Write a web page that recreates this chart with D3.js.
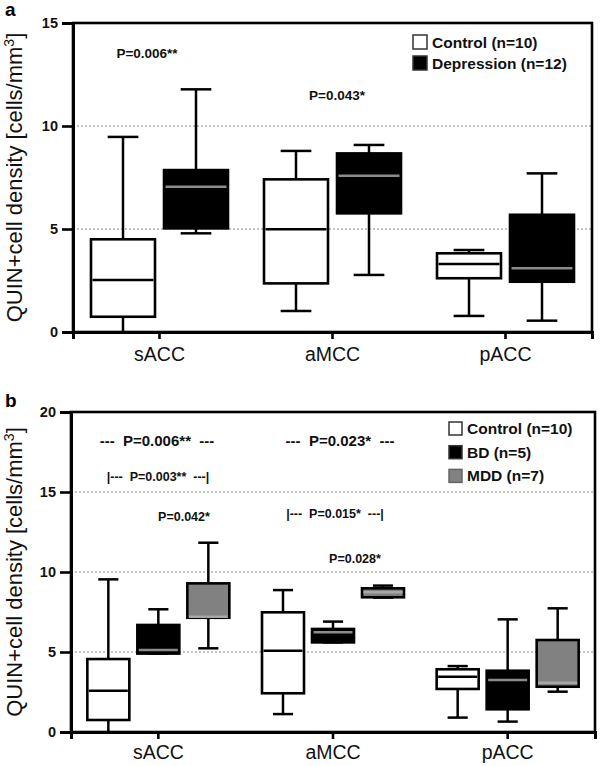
<!DOCTYPE html>
<html>
<head>
<meta charset="utf-8">
<script src="https://cdn.jsdelivr.net/npm/d3@7"></script>
<style>
  body { margin: 0; background: #fff; }
  text { font-family: "Liberation Sans", Arial, sans-serif; }
</style>
</head>
<body>
<div id="chart"></div>
<script>
'use strict'

// DATA
var regions = ['sACC', 'aMCC', 'pACC'];

// panel a
var groupsA = ['Control (n=10)', 'Depression (n=12)'];
// [min, q1, median, q3, max] per region
var controlA = [[0, 0.74, 2.52, 4.5, 9.47], [1.02, 2.36, 4.99, 7.41, 8.79], [0.78, 2.61, 3.3, 3.82, 3.98]];
var depressionA = [[4.79, 5.03, 7.05, 7.86, 11.78], [2.77, 5.76, 7.59, 8.67, 9.08], [0.55, 2.44, 3.09, 5.69, 7.7]];
var ticksA = [0, 5, 10, 15];

// panel b
var groupsB = ['Control (n=10)', 'BD (n=5)', 'MDD (n=7)'];
var controlB = [[0, 0.75, 2.58, 4.56, 9.54], [1.12, 2.42, 5.08, 7.48, 8.87], [0.9, 2.69, 3.46, 3.92, 4.12]];
var bdB = [[4.9, 4.9, 5.12, 6.69, 7.67], [5.6, 5.6, 6.23, 6.44, 6.9], [0.65, 1.42, 3.25, 3.83, 7.04]];
var mddB = [[5.23, 7.14, 7.2, 9.29, 11.83], [8.4, 8.42, 8.73, 8.98, 9.15], [2.52, 2.83, 3.08, 5.75, 7.73]];
var ticksB = [0, 5, 10, 15, 20];

var pTextsA = ['P=0.006**', 'P=0.043*'];
var pTextsB = ['---  P=0.006**  ---', '---  P=0.023*  ---', '|---  P=0.003**  ---|', 'P=0.042*', '|---  P=0.015*  ---|', 'P=0.028*'];

var W = 600, H = 766;
var svg = d3.select('#chart').append('svg').attr('width', W).attr('height', H);

// box colours: fill, median colour
var STYLE_A = [{ fill: '#fff', med: '#000' }, { fill: '#000', med: '#8c8c8c' }];
var STYLE_B = [{ fill: '#fff', med: '#000' }, { fill: '#000', med: '#8c8c8c' }, { fill: '#818181', med: '#a8a8a8' }];

function drawPanel(cfg) {
  var g = svg.append('g');
  var x = d3.scaleBand().domain(regions).range([cfg.left, cfg.right]);
  var y = d3.scaleLinear().domain([0, cfg.max]).range([cfg.bottom, cfg.top]);
  var off = d3.scalePoint().domain(cfg.groups).range([-cfg.spread, cfg.spread]);
  var BW = cfg.boxW;
  var CAP = BW * 0.48;

  // dotted gridlines
  g.selectAll('.grid')
    .data(cfg.ticks.filter(function (t) { return t > 0 && t < cfg.max; }))
    .enter().append('line')
    .attr('x1', cfg.left).attr('x2', cfg.right)
    .attr('y1', function (d) { return y(d); }).attr('y2', function (d) { return y(d); })
    .attr('stroke', '#8a8a8a').attr('stroke-width', 1.2).attr('stroke-dasharray', '2,2');

  // boxes
  cfg.series.forEach(function (ser, si) {
    var st = cfg.styles[si];
    ser.forEach(function (v, ri) {
      var cx = x(regions[ri]) + x.bandwidth() / 2 + off(cfg.groups[si]);
      var b = g.append('g');
      // whisker
      b.append('line').attr('x1', cx).attr('x2', cx).attr('y1', y(v[0])).attr('y2', y(v[4]))
        .attr('stroke', '#000').attr('stroke-width', 2.5);
      [v[0], v[4]].forEach(function (w) {
        if (w > 0) {
          b.append('line').attr('x1', cx - CAP / 2).attr('x2', cx + CAP / 2).attr('y1', y(w)).attr('y2', y(w))
            .attr('stroke', '#000').attr('stroke-width', 2.5);
        }
      });
      b.append('rect')
        .attr('x', cx - BW / 2).attr('y', y(v[3]))
        .attr('width', BW).attr('height', Math.max(1, y(v[1]) - y(v[3])))
        .attr('fill', st.fill).attr('stroke', '#000').attr('stroke-width', 2.6);
      b.append('line').attr('x1', cx - BW / 2 + 1.5).attr('x2', cx + BW / 2 - 1.5)
        .attr('y1', y(v[2])).attr('y2', y(v[2]))
        .attr('stroke', st.med).attr('stroke-width', 2.5);
    });
  });

  // frame
  g.append('rect').attr('x', cfg.left).attr('y', cfg.top)
    .attr('width', cfg.right - cfg.left).attr('height', cfg.bottom - cfg.top)
    .attr('fill', 'none').attr('stroke', '#000').attr('stroke-width', 2.6);

  // y axis
  var yAxis = d3.axisLeft(y).tickValues(cfg.ticks).tickSize(11).tickPadding(4);
  var ya = g.append('g').attr('transform', 'translate(' + cfg.left + ',0)').call(yAxis);
  ya.select('.domain').attr('stroke-width', 3);
  ya.selectAll('.tick line').attr('stroke-width', 2.6);
  ya.selectAll('.tick text').attr('font-size', '14.5px').attr('font-weight', 'bold')
    .attr('font-family', '"Liberation Sans", Arial, sans-serif').attr('fill', '#111');

  // x axis
  var xAxis = d3.axisBottom(x).tickSize(7).tickPadding(8);
  var xa = g.append('g').attr('transform', 'translate(0,' + cfg.bottom + ')').call(xAxis);
  xa.select('.domain').attr('stroke-width', 3);
  xa.selectAll('.tick line').attr('stroke-width', 2.6);
  xa.selectAll('.tick text').attr('font-size', '19.5px')
    .attr('font-family', '"Liberation Sans", Arial, sans-serif').attr('fill', '#111')
    .attr('y', cfg.catY).attr('dy', 0);

  // y label
  var lab = g.append('text')
    .attr('transform', 'translate(' + cfg.labX + ',' + (cfg.top + cfg.bottom) / 2 + ') rotate(-90)')
    .attr('text-anchor', 'middle').attr('font-size', '22px').attr('fill', '#111');
  lab.append('tspan').text('QUIN+cell density [cells/mm');
  lab.append('tspan').text('3').attr('font-size', '14px').attr('dy', '-8');
  lab.append('tspan').text(']').attr('dy', '8');

  // panel letter
  g.append('text').attr('x', 5).attr('y', cfg.letterY).text(cfg.letter)
    .attr('font-size', '19px').attr('font-weight', 'bold').attr('fill', '#000');

  // legend
  cfg.groups.forEach(function (name, i) {
    var ly = cfg.legY + i * cfg.legStep;
    g.append('rect').attr('x', cfg.legX).attr('y', ly)
      .attr('width', cfg.legSq).attr('height', cfg.legSq)
      .attr('fill', cfg.styles[i].fill)
      .attr('stroke', i == 2 ? '#666' : '#333').attr('stroke-width', 1.5);
    g.append('text').attr('x', cfg.legX + cfg.legSq + 5).attr('y', ly + cfg.legSq - 1)
      .text(name).attr('font-size', '15.5px').attr('font-weight', 'bold').attr('fill', '#111');
  });

  // P value annotations
  cfg.notes.forEach(function (n) {
    g.append('text').attr('x', n.x).attr('y', n.y).text(n.text)
      .attr('text-anchor', 'middle').attr('font-size', n.size).attr('font-weight', 'bold')
      .attr('fill', '#111').style('white-space', 'pre');
  });
}

drawPanel({
  letter: 'a', letterY: 16,
  left: 73, right: 592, top: 23, bottom: 332, max: 15, ticks: ticksA,
  groups: groupsA, series: [controlA, depressionA], styles: STYLE_A,
  spread: 36.5, boxW: 64, labX: 22, catY: 29,
  legX: 413, legY: 35, legStep: 21, legSq: 14,
  notes: [
    { text: pTextsA[0], x: 147, y: 58, size: '13.5px' },
    { text: pTextsA[1], x: 337, y: 100, size: '13.5px' }
  ]
});

drawPanel({
  letter: 'b', letterY: 407,
  left: 71, right: 595, top: 412, bottom: 732, max: 20, ticks: ticksB,
  groups: groupsB, series: [controlB, bdB, mddB], styles: STYLE_B,
  spread: 50, boxW: 42, labX: 22, catY: 27,
  legX: 449, legY: 422, legStep: 23.7, legSq: 13,
  notes: [
    { text: pTextsB[0], x: 157, y: 446, size: '15px' },
    { text: pTextsB[1], x: 340, y: 446, size: '15px' },
    { text: pTextsB[2], x: 158, y: 481, size: '12.5px' },
    { text: pTextsB[3], x: 184, y: 520.5, size: '12.5px' },
    { text: pTextsB[4], x: 335, y: 518, size: '12.5px' },
    { text: pTextsB[5], x: 355, y: 562.5, size: '12.5px' }
  ]
});
</script>
</body>
</html>
